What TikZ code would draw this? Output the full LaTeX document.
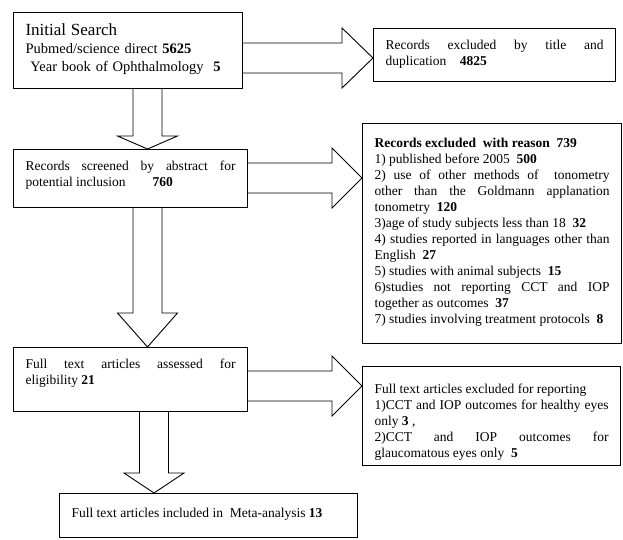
\documentclass[tikz,border=0pt]{standalone}
\usepackage{fontspec}
\setmainfont{Liberation Serif}
\usetikzlibrary{calc}

\newcommand{\fatright}[4]{% from, to, centre y, head length
\draw[fat] ($(#1.east |- 0,#3)+(0,-15)$) -- ($(#2.west |- 0,#3)+(-#4,-15)$) -- ++(0,-15) -- (#2.west |- 0,#3) -- ++(-#4,30) -- ++(0,-15) -- ($(#1.east |- 0,#3)+(0,15)$);}
\newcommand{\fatdown}[4]{% from, to, centre x, head length
\draw[fat] ($(#1.south -| #3,0)+(-14.5,0)$) -- ($(#2.north -| #3,0)+(-14.5,-#4)$) -- ++(-15.5,0) -- (#2.north -| #3,0) -- ++(30,-#4) -- ++(-15.5,0) -- ($(#1.south -| #3,0)+(14.5,0)$);}

\begin{document}
\begin{tikzpicture}[x=1pt,y=-1pt]
\tikzset{box/.style={draw,line width=1.1pt,anchor=north west,inner xsep=12pt,inner ysep=11pt,align=justify,font=\fontsize{13.5}{16}\selectfont}}
\tikzset{fat/.style={line width=0.9pt,line join=miter}}
\useasboundingbox (0,0) rectangle (623,539);
\node[box,align=left,text width=205pt,text depth=42pt,font=\fontsize{14.5}{18}\selectfont] at (13,12) (init) {{\fontsize{17}{18}\selectfont Initial Search}\\ Pubmed/science direct \textbf{5625}\\ \ Year book of Ophthalmology\ \ \textbf{5}};
\node[box,text width=218pt,text height=10pt,text depth=21pt] at (373,28) (title) {Records excluded by title and\linebreak duplication\quad\textbf{4825}};
\node[box,text width=210pt,text height=10pt,text depth=26pt] at (13,149) (screen) {Records screened by abstract for\linebreak potential inclusion\qquad\textbf{760}};
\node[box,text width=235pt,text height=13pt,text depth=185pt] at (362,123) (reason) {\textbf{Records excluded\ \ with reason\ \ 739}\\
1) published before 2005\ \ \textbf{500}\\
2) use of other methods of\ \ tonometry\linebreak
other than the Goldmann applanation\linebreak
tonometry\ \ \textbf{120}\\
3)age of study subjects less than 18\ \ \textbf{32}\\
4) studies reported in languages other than\linebreak
English\ \ \textbf{27}\\
5) studies with animal subjects\ \ \textbf{15}\\
6)studies not reporting CCT and IOP\linebreak
together as outcomes\ \ \textbf{37}\\
7) studies involving treatment protocols\ \ \textbf{8}};
\node[box,text width=210pt,text height=10pt,text depth=32pt] at (13,347) (full) {Full text articles assessed for\linebreak eligibility \textbf{21}};
\node[box,text width=234pt,text height=16pt,text depth=61pt] at (362,366) (fullex) {Full text articles excluded for reporting\\
1)CCT and IOP outcomes for healthy eyes\linebreak
only \textbf{3} ,\\
2)CCT and IOP outcomes for\linebreak
glaucomatous eyes only\ \ \textbf{5}};
\node[box,text width=274pt,text height=13pt,text depth=9pt] at (59,493) (incl) {Full text articles included in\ \ Meta-analysis \textbf{13}};
\fatright{init}{title}{58}{31}
\fatright{screen}{reason}{178}{30}
\fatright{full}{fullex}{386}{30}
\fatdown{init}{screen}{147.5}{13}
\fatdown{screen}{full}{147.5}{34}
\fatdown{full}{incl}{154}{20}
\end{tikzpicture}
\end{document}
